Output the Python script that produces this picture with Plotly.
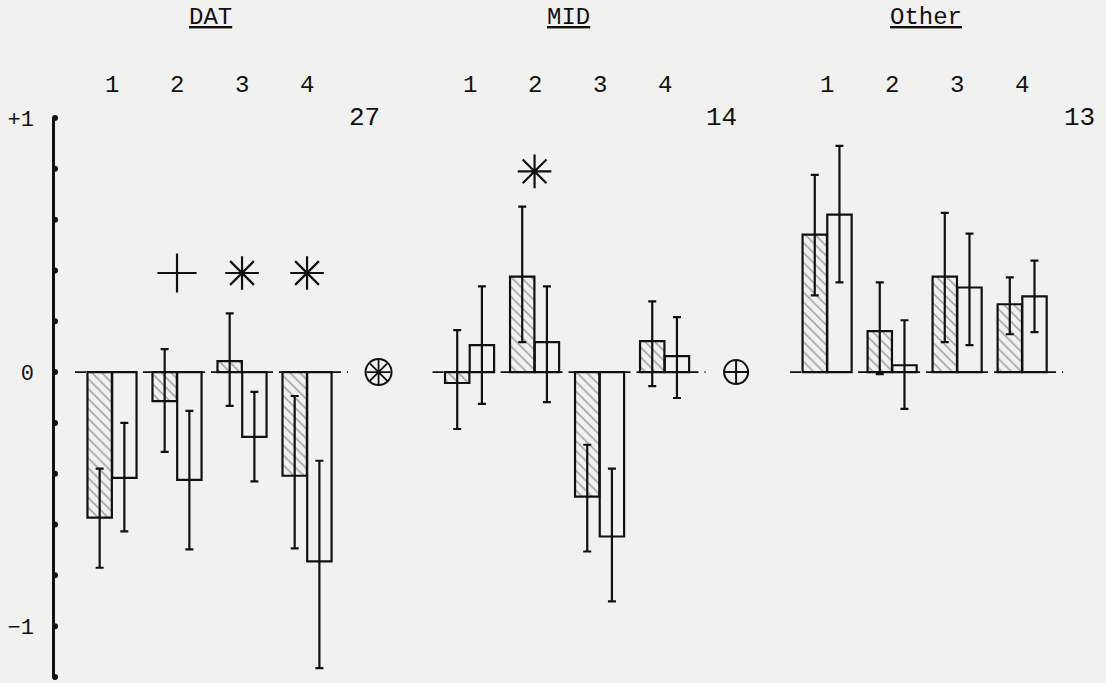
import plotly.graph_objects as go

groups = ["DAT", "MID", "Other"]
counts = ["27", "14", "13"]
conditions = ["1", "2", "3", "4"]

# hatched bars (left of each pair)
hatched = [[-0.573, -0.114, 0.043, -0.408],
           [-0.043, 0.376, -0.490, 0.122],
           [0.541, 0.161, 0.376, 0.267]]
hatched_up = [[0.193, 0.204, 0.188, 0.314],
              [0.208, 0.275, 0.204, 0.156],
              [0.235, 0.192, 0.251, 0.106]]
hatched_down = [[0.197, 0.200, 0.176, 0.286],
                [0.181, 0.258, 0.216, 0.177],
                [0.239, 0.169, 0.258, 0.118]]

# open bars (right of each pair)
openb = [[-0.416, -0.424, -0.255, -0.745],
         [0.106, 0.118, -0.647, 0.063],
         [0.620, 0.027, 0.333, 0.298]]
open_up = [[0.216, 0.271, 0.177, 0.396],
           [0.231, 0.219, 0.267, 0.153],
           [0.270, 0.177, 0.212, 0.141]]
open_down = [[0.211, 0.274, 0.175, 0.420],
             [0.231, 0.236, 0.255, 0.165],
             [0.267, 0.172, 0.227, 0.141]]

# significance marks: (group, condition, symbol, level)
sig_marks = [(0, 1, "cross-thin-open", 0.39),
             (0, 2, "asterisk-open", 0.39),
             (0, 3, "asterisk-open", 0.39),
             (1, 1, "asterisk-open", 0.79)]
# group-level marks: group index -> kind
group_marks = {0: "circled-asterisk", 1: "circled-plus"}

y_ticks = [1.0, 0.8, 0.6, 0.4, 0.2, 0.0, -0.2, -0.4, -0.6, -0.8, -1.0, -1.2]
y_ticklabels = {1.0: "+1", 0.0: "0", -1.0: "\u22121"}

GROUP_STEP = 5.5
HALF = 0.19
BW = 0.375
FONT = "Liberation Mono"
INK = "#111111"
BG = "#f1f1ef"
X_MIN, X_MAX = -0.877, 15.29

fig = go.Figure()

hx, hy, hu, hd, ox, oy, ou, od = [], [], [], [], [], [], [], []
for gi in range(len(groups)):
    for ci in range(len(conditions)):
        c = gi * GROUP_STEP + ci
        hx.append(c - HALF); hy.append(hatched[gi][ci])
        hu.append(hatched_up[gi][ci]); hd.append(hatched_down[gi][ci])
        ox.append(c + HALF); oy.append(openb[gi][ci])
        ou.append(open_up[gi][ci]); od.append(open_down[gi][ci])

err = dict(type="data", color=INK, thickness=2.2, width=4, symmetric=False)

# dashed zero line per group (drawn first, bars on top)
for gi in range(len(groups)):
    g0 = gi * GROUP_STEP
    fig.add_trace(go.Scatter(
        x=[g0 - 0.57, g0 + 3.63], y=[0, 0], mode="lines",
        line=dict(color=INK, width=1.8, dash="11px,6px"),
        showlegend=False, hoverinfo="skip"))

fig.add_trace(go.Bar(
    x=hx, y=hy, width=BW,
    marker=dict(color="rgba(0,0,0,0)", line=dict(color=INK, width=2.2),
                pattern=dict(shape="\\", fgcolor="#3a3a3a", bgcolor="rgba(0,0,0,0)",
                             size=7, solidity=0.2)),
    error_y=dict(err, array=hu, arrayminus=hd),
    showlegend=False, hoverinfo="skip"))
fig.add_trace(go.Bar(
    x=ox, y=oy, width=BW,
    marker=dict(color="rgba(0,0,0,0)", line=dict(color=INK, width=2.2)),
    error_y=dict(err, array=ou, arrayminus=od),
    showlegend=False, hoverinfo="skip"))

# significance marks
for gi, ci, sym, lvl in sig_marks:
    fig.add_trace(go.Scatter(
        x=[gi * GROUP_STEP + ci], y=[lvl], mode="markers",
        marker=dict(symbol=sym, size=28, color=INK, line=dict(color=INK, width=2.2)),
        showlegend=False, hoverinfo="skip"))

for gi, kind in group_marks.items():
    gx = gi * GROUP_STEP + 4.1
    if kind == "circled-asterisk":
        fig.add_trace(go.Scatter(x=[gx], y=[0], mode="markers",
            marker=dict(symbol="circle-open", size=26, color=INK, line=dict(color=INK, width=2)),
            showlegend=False, hoverinfo="skip"))
        fig.add_trace(go.Scatter(x=[gx], y=[0], mode="markers",
            marker=dict(symbol="asterisk-open", size=20, color=INK, line=dict(color=INK, width=1.8)),
            showlegend=False, hoverinfo="skip"))
    else:
        fig.add_trace(go.Scatter(x=[gx], y=[0], mode="markers",
            marker=dict(symbol="circle-cross-open", size=24, color=INK, line=dict(color=INK, width=2)),
            showlegend=False, hoverinfo="skip"))

# axis dots
fig.add_trace(go.Scatter(
    x=[X_MIN] * len(y_ticks), y=y_ticks, mode="markers",
    marker=dict(size=6, color=INK), cliponaxis=False,
    showlegend=False, hoverinfo="skip"))

annotations = []
for gi, g in enumerate(groups):
    g0 = gi * GROUP_STEP
    annotations.append(dict(x=g0 + 1.52, y=1.18, xref="x", yref="paper", yanchor="middle",
                            text="<u>" + g + "</u>", showarrow=False,
                            font=dict(family=FONT, size=24, color=INK)))
    for ci, c in enumerate(conditions):
        annotations.append(dict(x=g0 + ci, y=1.059, xref="x", yref="paper", yanchor="middle",
                                text=c, showarrow=False,
                                font=dict(family=FONT, size=24, color=INK)))
    annotations.append(dict(x=g0 + 3.88, y=1.0, xref="x", yref="paper", yanchor="middle",
                            text=counts[gi], showarrow=False,
                            font=dict(family=FONT, size=26, color=INK)))

fig.update_layout(
    width=1106, height=683,
    margin=dict(l=55, r=0, t=118, b=6),
    paper_bgcolor=BG, plot_bgcolor=BG,
    barmode="overlay",
    annotations=annotations,
    xaxis=dict(range=[X_MIN, X_MAX], visible=False, fixedrange=True),
    yaxis=dict(range=[-1.2, 1.0], showgrid=False, zeroline=False,
               showline=True, linecolor=INK, linewidth=2.5,
               tickvals=list(y_ticklabels.keys()), ticktext=list(y_ticklabels.values()),
               ticks="", ticklabelstandoff=14,
               tickfont=dict(family=FONT, size=22, color=INK), fixedrange=True),
)

fig.write_html("out.html", config={"displayModeBar": False},
               post_script="document.body.style.margin='0';")
